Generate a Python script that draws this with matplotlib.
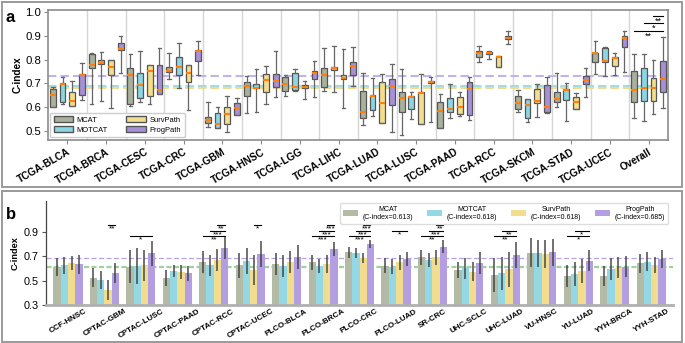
import numpy as np
import matplotlib.pyplot as plt
from matplotlib.patches import Patch, Rectangle

plt.rcParams["font.family"] = ["Liberation Sans", "DejaVu Sans"]

methods = ["MCAT", "MOTCAT", "SurvPath", "ProgPath"]
box_colors = ["#a9b19b", "#8ad6e3", "#f2de8c", "#a890d8"]
bar_colors = ["#b3baa5", "#93d8e4", "#f1dd8d", "#b39ee2"]
mean_colors = ["#b9c0a8", "#9fdde6", "#f0dc8c", "#c2b3ea"]

# ---------------- panel a : TCGA (box stats: whislo, q1, med, q3, whishi)
tcga = ["TCGA-BLCA", "TCGA-BRCA", "TCGA-CESC", "TCGA-CRC", "TCGA-GBM", "TCGA-HNSC",
        "TCGA-LGG", "TCGA-LIHC", "TCGA-LUAD", "TCGA-LUSC", "TCGA-PAAD", "TCGA-RCC",
        "TCGA-SKCM", "TCGA-STAD", "TCGA-UCEC", "Overall"]

mcat_a = [[0.600, 0.600, 0.650, 0.675, 0.685], [0.612, 0.766, 0.777, 0.823, 0.826],
          [0.605, 0.612, 0.735, 0.763, 0.822], [0.718, 0.748, 0.752, 0.770, 0.829],
          [0.518, 0.532, 0.546, 0.560, 0.620], [0.574, 0.648, 0.689, 0.704, 0.732],
          [0.648, 0.669, 0.697, 0.725, 0.735], [0.669, 0.683, 0.733, 0.766, 0.850],
          [0.525, 0.553, 0.581, 0.668, 0.742], [0.483, 0.581, 0.637, 0.662, 0.760],
          [0.511, 0.514, 0.584, 0.620, 0.654], [0.788, 0.810, 0.829, 0.836, 0.858],
          [0.578, 0.591, 0.619, 0.648, 0.672], [0.601, 0.620, 0.634, 0.662, 0.742],
          [0.738, 0.791, 0.826, 0.829, 0.878], [0.556, 0.623, 0.670, 0.752, 0.823]]
motcat_a = [[0.613, 0.623, 0.697, 0.700, 0.725], [0.626, 0.780, 0.784, 0.797, 0.833],
            [0.623, 0.640, 0.693, 0.745, 0.836], [0.679, 0.735, 0.770, 0.812, 0.868],
            [0.514, 0.514, 0.528, 0.574, 0.600], [0.581, 0.679, 0.679, 0.699, 0.760],
            [0.669, 0.672, 0.686, 0.742, 0.760], [0.665, 0.756, 0.765, 0.769, 0.858],
            [0.563, 0.587, 0.648, 0.650, 0.724], [0.550, 0.591, 0.644, 0.646, 0.662],
            [0.553, 0.581, 0.591, 0.637, 0.699], [0.802, 0.822, 0.826, 0.833, 0.836],
            [0.539, 0.553, 0.609, 0.634, 0.634], [0.543, 0.630, 0.674, 0.675, 0.700],
            [0.732, 0.788, 0.794, 0.847, 0.854], [0.543, 0.626, 0.682, 0.763, 0.823]]
survpath_a = [[0.603, 0.606, 0.626, 0.663, 0.710], [0.595, 0.735, 0.767, 0.798, 0.800],
              [0.612, 0.645, 0.752, 0.777, 0.777], [0.588, 0.704, 0.742, 0.775, 0.777],
              [0.497, 0.528, 0.571, 0.600, 0.648], [0.612, 0.662, 0.714, 0.738, 0.773],
              [0.634, 0.679, 0.686, 0.693, 0.710], [0.595, 0.718, 0.721, 0.734, 0.843],
              [0.532, 0.532, 0.619, 0.704, 0.738], [0.529, 0.529, 0.658, 0.665, 0.738],
              [0.564, 0.570, 0.601, 0.644, 0.662], [0.767, 0.770, 0.810, 0.815, 0.815],
              [0.557, 0.619, 0.626, 0.676, 0.696], [0.591, 0.591, 0.623, 0.641, 0.658],
              [0.735, 0.774, 0.808, 0.812, 0.826], [0.570, 0.627, 0.679, 0.721, 0.798]]
progpath_a = [[0.630, 0.651, 0.735, 0.739, 0.784], [0.742, 0.840, 0.843, 0.868, 0.900],
              [0.654, 0.654, 0.670, 0.775, 0.847], [0.735, 0.794, 0.837, 0.840, 0.878],
              [0.565, 0.565, 0.598, 0.616, 0.637], [0.643, 0.683, 0.710, 0.738, 0.836],
              [0.644, 0.718, 0.745, 0.752, 0.794], [0.690, 0.735, 0.774, 0.791, 0.854],
              [0.494, 0.609, 0.690, 0.718, 0.783], [0.536, 0.703, 0.706, 0.708, 0.727],
              [0.545, 0.567, 0.675, 0.707, 0.726], [0.865, 0.885, 0.892, 0.899, 0.920],
              [0.574, 0.578, 0.602, 0.693, 0.728], [0.641, 0.699, 0.712, 0.731, 0.766],
              [0.749, 0.852, 0.889, 0.899, 0.920], [0.595, 0.665, 0.718, 0.794, 0.893]]
mean_a = [0.684, 0.690, 0.680, 0.732]
sig_a = [(15, 0, "**"), (15, 1, "*"), (15, 2, "**")]

# ---------------- panel b : external cohorts (mean, half error)
cohorts = ["CCF-HNSC", "CPTAC-GBM", "CPTAC-LUSC", "CPTAC-PAAD", "CPTAC-RCC", "CPTAC-UCEC",
           "PLCO-BLCA", "PLCO-BRCA", "PLCO-CRC", "PLCO-LUAD", "SR-CRC", "UHC-SCLC",
           "UHC-LUAD", "VU-HNSC", "YU-LUAD", "YYH-BRCA", "YYH-STAD"]
mcat_b = [0.614, 0.524, 0.614, 0.524, 0.654, 0.627, 0.635, 0.649, 0.731, 0.622, 0.690,
          0.587, 0.545, 0.728, 0.537, 0.537, 0.641]
motcat_b = [0.627, 0.504, 0.619, 0.578, 0.627, 0.663, 0.622, 0.619, 0.723, 0.614, 0.668,
            0.600, 0.559, 0.723, 0.554, 0.594, 0.654]
survpath_b = [0.646, 0.423, 0.627, 0.567, 0.668, 0.586, 0.654, 0.635, 0.687, 0.649, 0.690,
              0.573, 0.594, 0.717, 0.581, 0.605, 0.627]
progpath_b = [0.635, 0.564, 0.723, 0.559, 0.764, 0.717, 0.690, 0.758, 0.799, 0.676, 0.777,
              0.641, 0.709, 0.731, 0.663, 0.614, 0.676]
mcat_err = [0.073, 0.075, 0.137, 0.065, 0.092, 0.102, 0.090, 0.062, 0.043, 0.062, 0.062,
            0.068, 0.139, 0.119, 0.092, 0.080, 0.075]
motcat_err = [0.070, 0.075, 0.150, 0.050, 0.086, 0.106, 0.089, 0.057, 0.041, 0.060, 0.055,
              0.086, 0.137, 0.109, 0.098, 0.089, 0.078]
survpath_err = [0.057, 0.083, 0.127, 0.058, 0.091, 0.123, 0.092, 0.071, 0.041, 0.059, 0.062,
                0.075, 0.143, 0.116, 0.098, 0.086, 0.066]
progpath_err = [0.078, 0.082, 0.101, 0.062, 0.089, 0.109, 0.099, 0.055, 0.034, 0.055, 0.052,
                0.091, 0.109, 0.112, 0.085, 0.085, 0.075]
mean_b = [0.613, 0.618, 0.618, 0.685]
sig_b = [(1, 2, "**"), (2, 0, "*"), (4, 0, "**"), (4, 1, "***"), (4, 2, "**"), (5, 2, "*"),
         (7, 0, "***"), (7, 1, "***"), (7, 2, "***"), (8, 0, "***"), (8, 1, "***"),
         (8, 2, "***"), (9, 1, "*"), (10, 0, "**"), (10, 1, "***"), (10, 2, "**"),
         (12, 0, "**"), (12, 1, "**"), (14, 0, "*"), (14, 1, "*")]

W, H = 685, 343
fig = plt.figure(figsize=(W / 100, H / 100), dpi=100)

def px_axes(l, t, r, b):
    return fig.add_axes([l / W, 1 - b / H, (r - l) / W, (b - t) / H])

# panel frames
for (x0, y0, x1, y1) in [(2, 2, 682, 187), (2, 191, 682, 342)]:
    fig.patches.append(Rectangle((x0 / W, 1 - y1 / H), (x1 - x0) / W, (y1 - y0) / H,
                                 transform=fig.transFigure, fill=False,
                                 edgecolor="#9a9a9a", lw=1.4))

# ---------------- panel a
ax = px_axes(48, 10, 668, 140)
box_data = [mcat_a, motcat_a, survpath_a, progpath_a]
offs_a = [-0.375, -0.125, 0.125, 0.375]
x = np.arange(len(tcga))
for k in range(4):
    stats = [dict(whislo=s[0], q1=s[1], med=s[2], q3=s[3], whishi=s[4]) for s in box_data[k]]
    ax.bxp(stats, positions=x + offs_a[k], widths=0.15, capwidths=0.09,
           patch_artist=True, showfliers=False,
           boxprops=dict(facecolor=box_colors[k], edgecolor="#555555", lw=0.9),
           medianprops=dict(color="#ff7f0e", lw=1.5),
           whiskerprops=dict(color="#666666", lw=0.9),
           capprops=dict(color="#666666", lw=0.9), manage_ticks=False)
    ax.axhline(mean_a[k], color=mean_colors[k], ls="--", lw=1.5, dashes=(4, 2), zorder=0.5)
for i in range(len(tcga) - 1):
    ax.axvline(i + 0.5, color="#d6d6d6", lw=1, zorder=0)
lev_a = [0.921, 0.952, 0.984]
for g, m, s in sig_a:
    ax.plot([g + offs_a[m], g + offs_a[3]], [lev_a[m], lev_a[m]], color="black", lw=0.8)
    ax.text((g + offs_a[m] + g + offs_a[3]) / 2, lev_a[m] - 0.003, s, ha="center", va="top",
            fontsize=6.5)
ax.set_xlim(-0.5, len(tcga) - 0.5)
ax.set_ylim(0.462, 1.008)
ax.set_yticks([0.5, 0.6, 0.7, 0.8, 0.9, 1.0])
ax.tick_params(axis="y", labelsize=8.2, length=3, color="#888888", pad=2)
ax.set_xticks(x)
ax.set_xticklabels(tcga, rotation=30, ha="right", rotation_mode="anchor",
                   fontsize=7.2, fontweight="bold")
ax.tick_params(axis="x", length=3, color="#888888", pad=2)
ax.set_ylabel("C-index", fontsize=7.2, fontweight="bold", labelpad=2)
for sp in ax.spines.values():
    sp.set_color("#8c8c8c")
    sp.set_linewidth(1.2)
handles = [Patch(facecolor=box_colors[k], edgecolor="#555555", label=methods[k]) for k in range(4)]
ax.legend(handles=handles, loc="lower left", bbox_to_anchor=(0.003, 0.02), borderaxespad=0,
          ncol=2, fontsize=5.4, handlelength=2.6, handleheight=0.75, handletextpad=0.5,
          columnspacing=2.4, labelspacing=0.35, borderpad=0.5,
          framealpha=1, edgecolor="#cccccc")
fig.text(5 / W, 1 - 22 / H, "a", fontsize=12, fontweight="bold")

# ---------------- panel b
bx = px_axes(45.7, 200.7, 673, 305)
bar_data = [mcat_b, motcat_b, survpath_b, progpath_b]
err_data = [mcat_err, motcat_err, survpath_err, progpath_err]
offs_b = [-0.3, -0.1, 0.1, 0.3]
xb = np.arange(len(cohorts))
for k in range(4):
    bx.bar(xb + offs_b[k], bar_data[k], width=0.2, color=bar_colors[k], zorder=2,
           label=f"{methods[k]}\n(C-index={mean_b[k]:.3f})")
    bx.errorbar(xb + offs_b[k], bar_data[k], yerr=err_data[k], fmt="none",
                ecolor="#3c3c3c", elinewidth=1.2, capsize=0, zorder=3, alpha=0.85)
bx.axhline(mean_b[3], color="#b4a4e4", ls="--", lw=0.9, dashes=(4, 2), zorder=1)
bx.axhline(mean_b[0], color="#b9c0a8", ls="--", lw=0.9, dashes=(4, 2), zorder=1)
bx.axhline(mean_b[1], color="#9ed49e", ls="--", lw=0.9, dashes=(4, 2), zorder=1)
lev_b = [0.865, 0.905, 0.954]
for g, m, s in sig_b:
    bx.plot([g + offs_b[m], g + offs_b[3]], [lev_b[m], lev_b[m]], color="black", lw=0.8)
    bx.text((g + offs_b[m] + g + offs_b[3]) / 2, lev_b[m] - 0.005, s, ha="center", va="top",
            fontsize=6)
bx.set_xlim(-0.61, len(cohorts) - 0.4)
bx.set_ylim(0.3, 1.154)
bx.set_yticks([0.3, 0.5, 0.7, 0.9])
bx.tick_params(axis="y", labelsize=7.8, length=3, color="#555555", pad=2)
bx.set_xticks(xb)
bx.set_xticklabels(cohorts, rotation=30, ha="center", fontsize=5.8, fontweight="bold")
bx.tick_params(axis="x", length=0, pad=2)
bx.set_ylabel("C-index", fontsize=6.6, fontweight="bold", labelpad=3)
bx.spines["top"].set_visible(False)
bx.spines["right"].set_visible(False)
bx.spines["left"].set_color("#444444")
bx.spines["left"].set_linewidth(0.9)
bx.spines["bottom"].set_color("#b0b0b0")
bx.spines["bottom"].set_linewidth(2)
leg = bx.legend(loc="upper right", bbox_to_anchor=(0.992, 0.978), borderaxespad=0, ncol=4,
                fontsize=5, handlelength=2.2, handleheight=0.9, handletextpad=0.7,
                columnspacing=1.9, framealpha=1, edgecolor="#dddddd")
for t in leg.get_texts():
    t.set_multialignment("center")
fig.text(6 / W, 1 - 219 / H, "b", fontsize=12, fontweight="bold")

fig.savefig("out.png", dpi=100)
